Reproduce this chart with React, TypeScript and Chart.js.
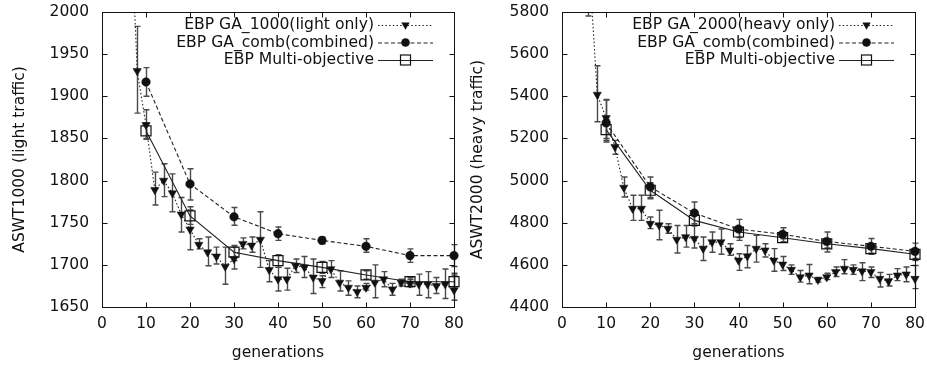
import React, { useEffect, useRef } from 'react';
import { Chart, registerables } from 'chart.js';

Chart.register(...registerables);

// ---------- data ----------
const GA_GENS = [6, 8, 10, 12, 14, 16, 18, 20, 22, 24, 26, 28, 30, 32, 34, 36, 38, 40, 42, 44, 46, 48, 50, 52, 54, 56, 58, 60, 62, 64, 66, 68, 70, 72, 74, 76, 78, 80];
const DECADE_GENS = [10, 20, 30, 40, 50, 60, 70, 80];
const X_TICKS = [0, 10, 20, 30, 40, 50, 60, 70, 80];

// left panel: light traffic
const L_Y_TICKS = [1650, 1700, 1750, 1800, 1850, 1900, 1950, 2000];
const L_GA_VAL = [2180, 1930, 1866, 1789, 1800, 1785, 1760, 1742, 1724, 1715, 1710, 1698, 1707, 1725, 1723, 1730, 1694, 1683, 1683, 1699, 1697, 1685, 1681, 1695, 1679, 1673, 1668, 1673, 1679, 1683, 1671, 1679, 1678, 1677, 1677, 1675, 1677, 1670];
const L_GA_LO = [2140, 1880, 1850, 1771, 1781, 1763, 1739, 1718, 1719, 1699, 1701, 1677, 1695, 1719, 1715, 1697, 1680, 1669, 1670, 1691, 1685, 1666, 1673, 1685, 1669, 1664, 1661, 1670, 1661, 1674, 1664, 1675, 1674, 1664, 1661, 1666, 1660, 1658];
const L_GA_HI = [2220, 1983, 1884, 1810, 1820, 1808, 1780, 1765, 1731, 1733, 1721, 1721, 1721, 1732, 1733, 1763, 1705, 1697, 1696, 1707, 1710, 1707, 1687, 1705, 1693, 1681, 1675, 1678, 1700, 1692, 1678, 1683, 1683, 1689, 1692, 1685, 1695, 1690];
const L_COMB_VAL = [1917, 1796, 1757, 1737, 1729, 1722, 1711, 1711];
const L_COMB_LO = [1900, 1777, 1747, 1729, 1725, 1715, 1703, 1698];
const L_COMB_HI = [1934, 1814, 1768, 1745, 1733, 1731, 1719, 1724];
const L_MULTI_VAL = [1859, 1758, 1715, 1705, 1697, 1688, 1680, 1680];
const L_MULTI_LO = [1849, 1748, 1705, 1697, 1690, 1683, 1675, 1672];
const L_MULTI_HI = [1868, 1769, 1723, 1712, 1704, 1693, 1685, 1688];

// right panel: heavy traffic
const R_Y_TICKS = [4400, 4600, 4800, 5000, 5200, 5400, 5600, 5800];
const R_GA_VAL = [6080, 5408, 5297, 5160, 4967, 4867, 4867, 4795, 4788, 4772, 4720, 4732, 4724, 4677, 4708, 4708, 4669, 4621, 4641, 4677, 4669, 4621, 4602, 4577, 4542, 4550, 4529, 4542, 4566, 4582, 4577, 4570, 4566, 4534, 4523, 4550, 4555, 4534];
const R_GA_LO = [5781, 5279, 5190, 5125, 4922, 4811, 4811, 4772, 4719, 4750, 4656, 4684, 4680, 4621, 4660, 4650, 4645, 4574, 4586, 4613, 4637, 4570, 4573, 4555, 4518, 4510, 4518, 4530, 4545, 4558, 4555, 4525, 4540, 4495, 4500, 4525, 4520, 4487];
const R_GA_HI = [6380, 5545, 5385, 5191, 5017, 4930, 4930, 4827, 4859, 4795, 4787, 4787, 4787, 4732, 4756, 4770, 4700, 4653, 4692, 4740, 4700, 4677, 4640, 4600, 4573, 4602, 4540, 4560, 4590, 4625, 4600, 4610, 4590, 4564, 4555, 4582, 4590, 4597];
const R_COMB_VAL = [5274, 4970, 4846, 4770, 4745, 4711, 4688, 4664];
const R_COMB_LO = [5183, 4914, 4795, 4716, 4724, 4661, 4650, 4621];
const R_COMB_HI = [5382, 5017, 4898, 4816, 4776, 4756, 4725, 4703];
const R_MULTI_VAL = [5242, 4954, 4811, 4756, 4729, 4700, 4677, 4650];
const R_MULTI_LO = [5200, 4920, 4785, 4730, 4710, 4680, 4655, 4630];
const R_MULTI_HI = [5290, 4990, 4840, 4780, 4750, 4720, 4700, 4670];

const L_LABELS = ['EBP GA_1000(light only)', 'EBP GA_comb(combined)', 'EBP Multi-objective'];
const R_LABELS = ['EBP GA_2000(heavy only)', 'EBP GA_comb(combined)', 'EBP Multi-objective'];

// ---------- drawing ----------
const FONT = 'DejaVu Sans';
const INK = '#111';
const DOTTED = [1.5, 2.2];
const DASHED = [4, 2.5];

type Marker = 'tri' | 'circle' | 'square';
interface Series {
  label: string;
  gens: number[];
  vals: number[];
  lo: number[];
  hi: number[];
  marker: Marker;
  dash: number[];
}

function drawMarker(ctx: CanvasRenderingContext2D, m: Marker, x: number, y: number) {
  ctx.save();
  ctx.setLineDash([]);
  ctx.fillStyle = INK;
  ctx.strokeStyle = INK;
  ctx.lineWidth = 1.2;
  if (m === 'tri') {
    const r = 4.8;
    ctx.beginPath();
    ctx.moveTo(x, y + r);
    ctx.lineTo(x - r * 0.866, y - r * 0.5);
    ctx.lineTo(x + r * 0.866, y - r * 0.5);
    ctx.closePath();
    ctx.fill();
  } else if (m === 'circle') {
    ctx.beginPath();
    ctx.arc(x, y, 4.3, 0, Math.PI * 2);
    ctx.fill();
  } else {
    ctx.strokeRect(x - 5, y - 5, 10, 10);
  }
  ctx.restore();
}

interface Panel {
  width: number;
  axisWidth: number;
  padRight: number;
  titlePad: number;
  yTitle: string;
  yTicks: number[];
  series: Series[];
}

function makeChart(canvas: HTMLCanvasElement, p: Panel) {
  const yMin = p.yTicks[0];
  const yMax = p.yTicks[p.yTicks.length - 1];
  const yStep = p.yTicks[1] - p.yTicks[0];

  const decor = {
    id: 'decor',
    beforeDatasetsDraw(chart: any) {
      const { ctx, chartArea: a } = chart;
      const xs = chart.scales.x;
      const ys = chart.scales.y;
      ctx.save();
      ctx.beginPath();
      ctx.rect(a.left - 12, a.top, a.right - a.left + 24, a.bottom - a.top);
      ctx.clip();
      ctx.strokeStyle = '#4a4a4a';
      ctx.lineWidth = 1.4;
      ctx.setLineDash([]);
      p.series.forEach((s) => {
        s.gens.forEach((g, i) => {
          const x = Math.round(xs.getPixelForValue(g)) + 0.5;
          const y1 = ys.getPixelForValue(s.lo[i]);
          const y2 = ys.getPixelForValue(s.hi[i]);
          ctx.beginPath();
          ctx.moveTo(x, y1);
          ctx.lineTo(x, y2);
          ctx.moveTo(x - 3, y1);
          ctx.lineTo(x + 3, y1);
          ctx.moveTo(x - 3, y2);
          ctx.lineTo(x + 3, y2);
          ctx.stroke();
        });
      });
      ctx.restore();
    },
    afterDraw(chart: any) {
      const { ctx, chartArea: a } = chart;
      const xs = chart.scales.x;
      const ys = chart.scales.y;
      ctx.save();
      ctx.strokeStyle = INK;
      ctx.lineWidth = 1;
      ctx.setLineDash([]);
      const L = Math.round(a.left) + 0.5;
      const R = Math.round(a.right) + 0.5;
      const T = Math.round(a.top) + 0.5;
      const B = Math.round(a.bottom) + 0.5;
      ctx.strokeRect(L, T, R - L, B - T);
      const tl = 5;
      ctx.beginPath();
      X_TICKS.forEach((v) => {
        const x = Math.round(xs.getPixelForValue(v)) + 0.5;
        ctx.moveTo(x, B);
        ctx.lineTo(x, B - tl);
        ctx.moveTo(x, T);
        ctx.lineTo(x, T + tl);
      });
      p.yTicks.forEach((v) => {
        const y = Math.round(ys.getPixelForValue(v)) + 0.5;
        ctx.moveTo(L, y);
        ctx.lineTo(L + tl, y);
        ctx.moveTo(R, y);
        ctx.lineTo(R - tl, y);
      });
      ctx.stroke();

      // legend
      const sampleEnd = a.right - 21;
      const sampleStart = sampleEnd - 55;
      const rows = [25, 42.5, 60];
      ctx.font = `15.6px "${FONT}"`;
      ctx.textAlign = 'right';
      ctx.textBaseline = 'middle';
      p.series.forEach((s, i) => {
        const y = rows[i];
        ctx.fillStyle = INK;
        ctx.fillText(s.label, sampleStart - 4, y);
        ctx.save();
        ctx.strokeStyle = '#222';
        ctx.lineWidth = 1;
        ctx.setLineDash(s.dash);
        ctx.beginPath();
        ctx.moveTo(sampleStart, y + 0.5);
        ctx.lineTo(sampleEnd, y + 0.5);
        ctx.stroke();
        ctx.restore();
        drawMarker(ctx, s.marker, (sampleStart + sampleEnd) / 2, y);
      });
      ctx.restore();
    },
  };

  const datasets = p.series.map((s) => ({
    label: s.label,
    data: s.gens.map((g, i) => ({ x: g, y: s.vals[i] })),
    borderColor: '#222',
    borderWidth: 1.1,
    borderDash: s.dash,
    tension: 0,
    fill: false,
    clip: { left: 12, right: 12, top: 0, bottom: 0 },
    pointStyle: s.marker === 'tri' ? 'triangle' : s.marker === 'circle' ? 'circle' : 'rect',
    pointRotation: s.marker === 'tri' ? 180 : 0,
    pointRadius: s.marker === 'tri' ? 4.8 : s.marker === 'circle' ? 4.3 : 7.07,
    pointBackgroundColor: s.marker === 'square' ? 'rgba(0,0,0,0)' : INK,
    pointBorderColor: INK,
    pointBorderWidth: s.marker === 'square' ? 1.2 : 0.5,
  }));

  const tickFont = { family: FONT, size: 15.5 };

  return new Chart(canvas, {
    type: 'line',
    data: { datasets },
    plugins: [decor],
    options: {
      responsive: false,
      animation: false,
      devicePixelRatio: 1,
      layout: { padding: { top: 12, right: p.padRight, left: 0, bottom: 0 } },
      plugins: { legend: { display: false }, tooltip: { enabled: false } },
      scales: {
        x: {
          type: 'linear',
          min: 0,
          max: 80,
          grid: { display: false, drawTicks: false },
          border: { display: false },
          ticks: {
            stepSize: 10,
            padding: 8,
            color: INK,
            font: tickFont,
            autoSkip: false,
            maxRotation: 0,
            callback: (v: any) => String(v),
          },
          title: {
            display: true,
            text: 'generations',
            color: INK,
            font: tickFont,
            padding: { top: 0, bottom: 3 },
          },
          afterFit(scale: any) {
            scale.height = 58;
            scale.paddingLeft = 0;
            scale.paddingRight = 0;
          },
        },
        y: {
          type: 'linear',
          min: yMin,
          max: yMax,
          grid: { display: false, drawTicks: false },
          border: { display: false },
          ticks: {
            stepSize: yStep,
            padding: 13,
            color: INK,
            font: tickFont,
            autoSkip: false,
            callback: (v: any) => String(v),
          },
          title: {
            display: true,
            text: p.yTitle,
            color: INK,
            font: tickFont,
            padding: { top: p.titlePad, bottom: 0 },
          },
          afterFit(scale: any) {
            scale.width = p.axisWidth;
            scale.paddingTop = 0;
            scale.paddingBottom = 0;
          },
        },
      },
    } as any,
  });
}

const leftSeries: Series[] = [
  { label: L_LABELS[0], gens: GA_GENS, vals: L_GA_VAL, lo: L_GA_LO, hi: L_GA_HI, marker: 'tri', dash: DOTTED },
  { label: L_LABELS[1], gens: DECADE_GENS, vals: L_COMB_VAL, lo: L_COMB_LO, hi: L_COMB_HI, marker: 'circle', dash: DASHED },
  { label: L_LABELS[2], gens: DECADE_GENS, vals: L_MULTI_VAL, lo: L_MULTI_LO, hi: L_MULTI_HI, marker: 'square', dash: [] },
];
const rightSeries: Series[] = [
  { label: R_LABELS[0], gens: GA_GENS, vals: R_GA_VAL, lo: R_GA_LO, hi: R_GA_HI, marker: 'tri', dash: DOTTED },
  { label: R_LABELS[1], gens: DECADE_GENS, vals: R_COMB_VAL, lo: R_COMB_LO, hi: R_COMB_HI, marker: 'circle', dash: DASHED },
  { label: R_LABELS[2], gens: DECADE_GENS, vals: R_MULTI_VAL, lo: R_MULTI_LO, hi: R_MULTI_HI, marker: 'square', dash: [] },
];

const LEFT_PANEL: Panel = {
  width: 463,
  axisWidth: 102,
  padRight: 9,
  titlePad: 11,
  yTitle: 'ASWT1000 (light traffic)',
  yTicks: L_Y_TICKS,
  series: leftSeries,
};
const RIGHT_PANEL: Panel = {
  width: 464,
  axisWidth: 99,
  padRight: 12,
  titlePad: 6,
  yTitle: 'ASWT2000 (heavy traffic)',
  yTicks: R_Y_TICKS,
  series: rightSeries,
};

function PanelCanvas({ panel, left }: { panel: Panel; left: number }) {
  const ref = useRef<HTMLCanvasElement | null>(null);
  useEffect(() => {
    if (!ref.current) return;
    const chart = makeChart(ref.current, panel);
    return () => chart.destroy();
  }, [panel]);
  return (
    <canvas
      ref={ref}
      width={panel.width}
      height={365}
      style={{ position: 'absolute', left, top: 0, width: panel.width, height: 365, display: 'block' }}
    />
  );
}

export default function App() {
  return (
    <div style={{ position: 'fixed', left: 0, top: 0, width: 927, height: 365, background: '#fff', overflow: 'hidden' }}>
      <PanelCanvas panel={LEFT_PANEL} left={0} />
      <PanelCanvas panel={RIGHT_PANEL} left={463} />
    </div>
  );
}
